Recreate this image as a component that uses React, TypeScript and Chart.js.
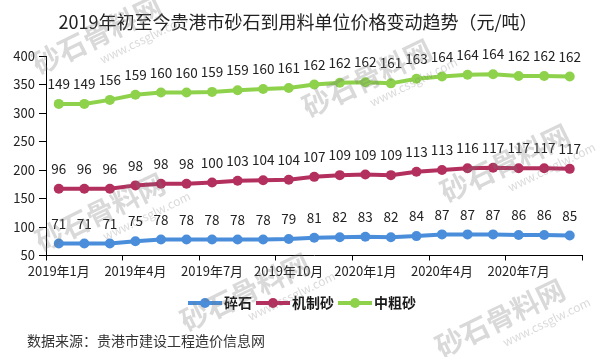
import React, { useEffect, useRef } from "react";
import { Chart, registerables } from "chart.js";

Chart.register(...registerables);

const FONT = '"Noto Sans CJK SC", "Noto Sans", sans-serif';

// Monthly categories, Jan 2019 – Sep 2020
const months = [
  "2019年1月", "2019年2月", "2019年3月", "2019年4月", "2019年5月", "2019年6月",
  "2019年7月", "2019年8月", "2019年9月", "2019年10月", "2019年11月", "2019年12月",
  "2020年1月", "2020年2月", "2020年3月", "2020年4月", "2020年5月", "2020年6月",
  "2020年7月", "2020年8月", "2020年9月",
];

// Unit prices (元/吨)
const crushedStone = [71, 71, 71, 75, 78, 78, 78, 78, 78, 79, 81, 82, 83, 82, 84, 87, 87, 87, 86, 86, 85];
const machineSand = [96, 96, 96, 98, 98, 98, 100, 103, 104, 104, 107, 109, 109, 109, 113, 113, 116, 117, 117, 117, 117];
const coarseSand = [149, 149, 156, 159, 160, 160, 159, 159, 160, 161, 162, 162, 162, 161, 163, 164, 164, 164, 162, 162, 162];

const seriesNames = ["碎石", "机制砂", "中粗砂"];
const seriesColors = ["#4A8EDB", "#B3305E", "#8ED24C"];

const titleText = "2019年初至今贵港市砂石到用料单位价格变动趋势（元/吨）";
const sourceText = "数据来源：贵港市建设工程造价信息网";
const markMain = "砂石骨料网";
const markSub = "www.cssglw.com";
const markSpots: [number, number][] = [
  [97, 35], [367, 78], [505, 163], [100, 212], [245, 292], [500, 318],
];

const decorPlugin = {
  id: "decor",
  afterDatasetsDraw(chart: any) {
    const ctx = chart.ctx;
    ctx.save();
    // value labels above each point
    ctx.font = `13.5px ${FONT}`;
    ctx.fillStyle = "#222";
    ctx.textAlign = "center";
    ctx.textBaseline = "middle";
    chart.data.datasets.forEach((ds: any, di: number) => {
      const meta = chart.getDatasetMeta(di);
      meta.data.forEach((pt: any, i: number) => {
        ctx.fillText(String(ds.data[i]), pt.x, pt.y - 20);
      });
    });
    ctx.restore();
  },
  afterDraw(chart: any) {
    const ctx = chart.ctx;
    ctx.save();
    // title
    ctx.font = `18px ${FONT}`;
    ctx.fillStyle = "#222";
    ctx.textAlign = "center";
    ctx.textBaseline = "middle";
    ctx.fillText(titleText, 298, 22);

    // legend
    ctx.font = `bold 14px ${FONT}`;
    const markerW = 34;
    const widths = seriesNames.map((n) => ctx.measureText(n).width);
    const total = widths.reduce((a, w) => a + markerW + 2 + w, 0) + 4 * (seriesNames.length - 1);
    let x = 302 - total / 2;
    const ly = 303;
    ctx.textAlign = "left";
    seriesNames.forEach((n, i) => {
      ctx.strokeStyle = seriesColors[i];
      ctx.lineWidth = 4;
      ctx.beginPath();
      ctx.moveTo(x, ly);
      ctx.lineTo(x + markerW, ly);
      ctx.stroke();
      ctx.fillStyle = seriesColors[i];
      ctx.beginPath();
      ctx.arc(x + markerW / 2, ly, 5, 0, Math.PI * 2);
      ctx.fill();
      ctx.fillStyle = "#1a1a1a";
      ctx.fillText(n, x + markerW + 2, ly);
      x += markerW + 2 + widths[i] + 4;
    });

    // source note
    ctx.font = `14px ${FONT}`;
    ctx.fillStyle = "#333";
    ctx.fillText(sourceText, 27, 341);

    // site marks
    markSpots.forEach(([cx, cy]) => {
      ctx.save();
      ctx.translate(cx, cy);
      ctx.rotate((-26 * Math.PI) / 180);
      ctx.textAlign = "center";
      ctx.fillStyle = "rgba(120,120,120,0.28)";
      ctx.font = `bold 28px ${FONT}`;
      ctx.fillText(markMain, 0, 0);
      ctx.font = `12px ${FONT}`;
      ctx.fillText(markSub, 40, 24);
      ctx.restore();
    });
    ctx.restore();
  },
};

export default function App() {
  const ref = useRef<HTMLCanvasElement | null>(null);

  useEffect(() => {
    if (!ref.current) return;
    const values = [crushedStone, machineSand, coarseSand];
    const chart = new Chart(ref.current, {
      type: "line",
      data: {
        labels: months,
        datasets: values.map((d, i) => ({
          label: seriesNames[i],
          data: d,
          borderColor: seriesColors[i],
          backgroundColor: seriesColors[i],
          pointBackgroundColor: seriesColors[i],
          pointBorderWidth: 0,
          pointRadius: 5,
          borderWidth: 4,
          fill: false,
          tension: 0,
        })),
      },
      options: {
        responsive: false,
        animation: false,
        devicePixelRatio: 1,
        layout: { padding: { left: 0, right: 17.5, top: 56, bottom: 71.5 } },
        plugins: {
          legend: { display: false },
          title: { display: false },
          tooltip: { enabled: false },
        },
        scales: {
          x: {
            offset: true,
            grid: {
              offset: true,
              drawOnChartArea: false,
              tickLength: 5,
              color: (c: any) => (c.index === undefined || c.index % 3 === 0 ? "#000" : "rgba(0,0,0,0)"),
            },
            border: { color: "#000", width: 1 },
            ticks: {
              autoSkip: false,
              maxRotation: 0,
              padding: 3,
              color: "#222",
              font: { family: FONT, size: 13 },
              callback: (_v: any, i: number) => (i % 3 === 0 ? months[i] : ""),
            },
            afterFit: (s: any) => {
              s.height = 30;
            },
          },
          y: {
            stacked: true,
            min: 50,
            max: 400,
            grid: { drawOnChartArea: false, tickLength: 7, color: "#000" },
            border: { color: "#000", width: 1 },
            ticks: {
              stepSize: 50,
              padding: 4,
              color: "#222",
              font: { family: FONT, size: 13 },
            },
            afterFit: (s: any) => {
              s.width = 46;
            },
          },
        },
      },
      plugins: [decorPlugin],
    } as any);
    return () => chart.destroy();
  }, []);

  return (
    <div style={{ position: "fixed", left: 0, top: 0, width: 600, height: 357, background: "#fff" }}>
      <canvas ref={ref} width={600} height={357} style={{ width: 600, height: 357 }} />
    </div>
  );
}
